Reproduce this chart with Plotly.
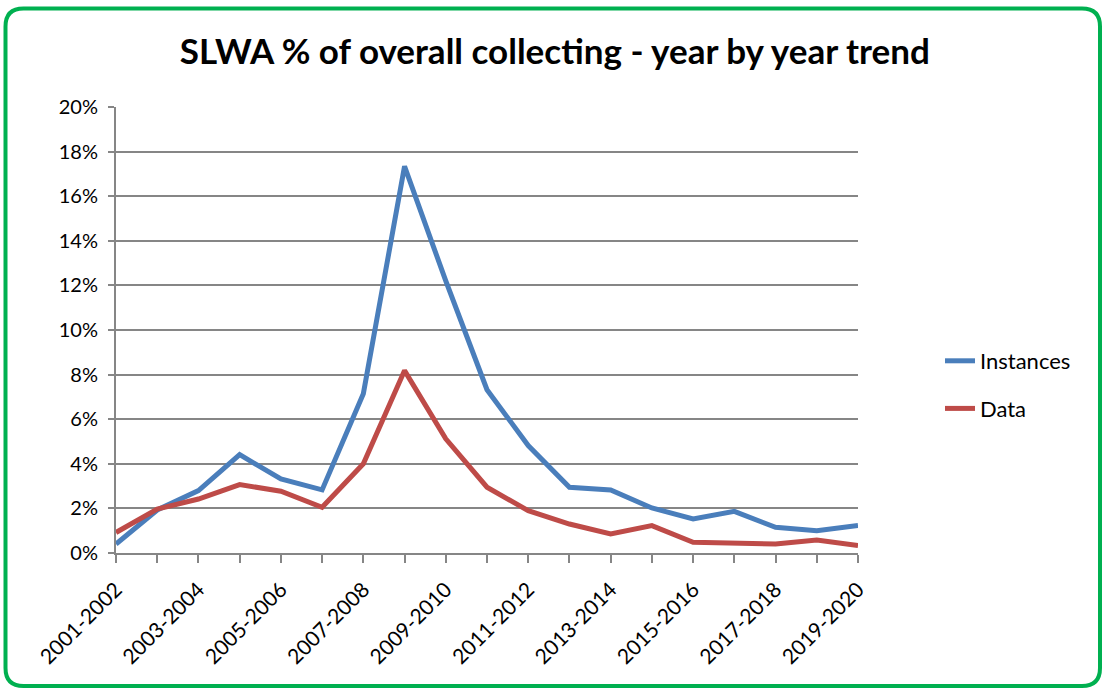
import plotly.graph_objects as go

categories = ["2001-2002", "2002-2003", "2003-2004", "2004-2005", "2005-2006",
              "2006-2007", "2007-2008", "2008-2009", "2009-2010", "2010-2011",
              "2011-2012", "2012-2013", "2013-2014", "2014-2015", "2015-2016",
              "2016-2017", "2017-2018", "2018-2019", "2019-2020"]
instances = [0.40, 1.93, 2.80, 4.41, 3.32, 2.83, 7.14, 17.34, 12.2, 7.32,
             4.82, 2.95, 2.83, 2.02, 1.53, 1.87, 1.15, 1.00, 1.23]
data_vals = [0.92, 1.97, 2.42, 3.07, 2.77, 2.05, 4.00, 8.18, 5.12, 2.95,
             1.90, 1.30, 0.85, 1.23, 0.48, 0.45, 0.40, 0.58, 0.33]
y_ticks = [0, 2, 4, 6, 8, 10, 12, 14, 16, 18, 20]

W, H = 1102, 689
L, R, T, B = 116, 858, 107, 553
FONT = "Lato"

fig = go.Figure()
fig.add_trace(go.Scatter(x=categories, y=[v / 100 for v in instances], mode="lines",
                         name="Instances", legendgroup="a",
                         line=dict(color="#4A7EBB", width=5)))
fig.add_trace(go.Scatter(x=categories, y=[v / 100 for v in data_vals], mode="lines",
                         name="Data", legendgroup="b",
                         line=dict(color="#BE4B48", width=5)))

def px(x):
    return (x - L) / (R - L)

def py(y):
    return (B - y) / (B - T)

# rounded green border
x0, x1, y0, y1, r = 5.5, 1100, 8.5, 686, 18
path = (f"M {px(x0 + r)} {py(y0)} L {px(x1 - r)} {py(y0)} "
        f"Q {px(x1)} {py(y0)} {px(x1)} {py(y0 + r)} "
        f"L {px(x1)} {py(y1 - r)} Q {px(x1)} {py(y1)} {px(x1 - r)} {py(y1)} "
        f"L {px(x0 + r)} {py(y1)} Q {px(x0)} {py(y1)} {px(x0)} {py(y1 - r)} "
        f"L {px(x0)} {py(y0 + r)} Q {px(x0)} {py(y0)} {px(x0 + r)} {py(y0)} Z")
fig.add_shape(type="path", path=path, xref="paper", yref="paper",
              line=dict(color="#00B050", width=4), layer="above")

fig.update_layout(
    width=W, height=H,
    margin=dict(l=L, r=W - R, t=T, b=H - B),
    paper_bgcolor="white", plot_bgcolor="white",
    font=dict(family=FONT, color="#000000", size=20),
    title=dict(text="<b>SLWA % of overall collecting - year by year trend</b>",
               x=0.5035, xanchor="center", y=1 - 52 / H, yanchor="middle",
               font=dict(family=FONT, size=35, color="#000000")),
    showlegend=True,
    legend=dict(x=px(940), y=py(385), xanchor="left", yanchor="middle",
                traceorder="grouped", tracegroupgap=16,
                font=dict(family=FONT, size=22, color="#000000"),
                bgcolor="rgba(0,0,0,0)", itemwidth=30),
)
fig.update_xaxes(
    type="category", categoryorder="array", categoryarray=categories,
    range=[0, len(categories) - 1],
    tickmode="array", tickvals=categories,
    ticktext=[c if i % 2 == 0 else "" for i, c in enumerate(categories)],
    tickangle=-45, ticks="outside", ticklen=8, tickcolor="#868686", tickwidth=2,
    showline=True, linecolor="#868686", linewidth=2, ticklabelstandoff=6,
    showgrid=False, tickfont=dict(family=FONT, size=21),
)
fig.update_yaxes(
    range=[0, 0.2], tickmode="array", tickvals=[v / 100 for v in y_ticks],
    ticktext=[f"{v}%" for v in y_ticks],
    ticks="outside", ticklen=6, tickcolor="#868686", tickwidth=2,
    showline=True, linecolor="#868686", linewidth=2, ticklabelstandoff=6,
    showgrid=True, gridcolor="#868686", gridwidth=2, zeroline=False,
    tickfont=dict(family=FONT, size=20),
)

fig.write_html("out.html", config={"displayModeBar": False},
               post_script="document.body.style.margin='0';")
